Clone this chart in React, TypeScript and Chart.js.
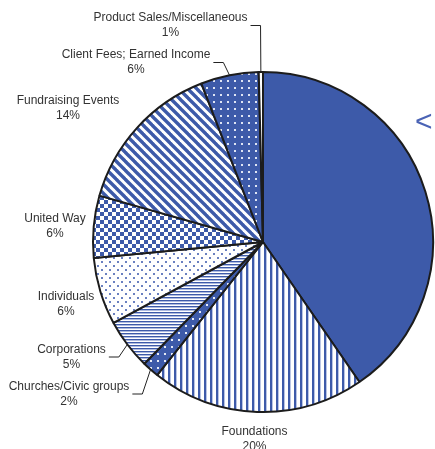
import React, { useEffect, useRef } from 'react';
import { Chart, registerables } from 'chart.js';

Chart.register(...registerables);

// ---- data ----
const categories = [
  'Government',
  'Foundations',
  'Churches/Civic groups',
  'Corporations',
  'Individuals',
  'United Way',
  'Fundraising Events',
  'Client Fees; Earned Income',
  'Product Sales/Miscellaneous',
];
const shares = [40.4, 20.3, 1.6, 4.8, 6.4, 5.9, 14.7, 5.5, 0.4];
const percentLabels = ['', '20%', '2%', '5%', '6%', '6%', '14%', '6%', '1%'];

// ---- layout of the label blocks (offset of block centre from pie centre) ----
const labelOffsets: Array<[number, number]> = [
  [0, 0],
  [-8.5, 197],
  [-194, 152],
  [-191.5, 115],
  [-197, 62.5],
  [-208, -16],
  [-195, -134],
  [-127, -179.5],
  [-92.5, -216.5],
];
const hasLeader = [false, false, true, true, false, false, false, true, true];

const BLUE = '#3d5aa9';

function makePattern(size: number, draw: (g: CanvasRenderingContext2D) => void): CanvasPattern | string {
  const c = document.createElement('canvas');
  c.width = size;
  c.height = size;
  const g = c.getContext('2d');
  if (!g) return BLUE;
  draw(g);
  return g.createPattern(c, 'repeat') || BLUE;
}

function buildFills() {
  const vertical = makePattern(6, (g) => {
    g.fillStyle = '#fff';
    g.fillRect(0, 0, 6, 6);
    g.fillStyle = BLUE;
    g.fillRect(0, 0, 2, 6);
    g.fillStyle = '#b9c4e4';
    g.fillRect(2, 0, 1, 6);
  });
  const blueDots7 = makePattern(7, (g) => {
    g.fillStyle = BLUE;
    g.fillRect(0, 0, 7, 7);
    g.fillStyle = '#e8ecf7';
    g.fillRect(3, 3, 2, 2);
  });
  const horizontal = makePattern(3, (g) => {
    g.fillStyle = '#fff';
    g.fillRect(0, 0, 3, 3);
    g.fillStyle = BLUE;
    g.fillRect(0, 0, 3, 1);
    g.fillStyle = '#aebbe0';
    g.fillRect(0, 1, 3, 1);
  });
  const sparseDots = makePattern(8, (g) => {
    g.fillStyle = '#fff';
    g.fillRect(0, 0, 8, 8);
    g.fillStyle = '#6a80c0';
    g.fillRect(1, 1, 2, 2);
    g.fillRect(5, 5, 2, 2);
  });
  const checker = makePattern(8, (g) => {
    g.fillStyle = '#fff';
    g.fillRect(0, 0, 8, 8);
    g.fillStyle = BLUE;
    g.fillRect(0, 0, 4, 4);
    g.fillRect(4, 4, 4, 4);
  });
  const diagonal = makePattern(9, (g) => {
    g.fillStyle = '#fff';
    g.fillRect(0, 0, 9, 9);
    g.strokeStyle = BLUE;
    g.lineWidth = 3.4;
    for (const o of [-9, 0, 9]) {
      g.beginPath();
      g.moveTo(o - 1, -1);
      g.lineTo(o + 10, 10);
      g.stroke();
    }
  });
  const clientDots = makePattern(7, (g) => {
    g.fillStyle = BLUE;
    g.fillRect(0, 0, 7, 7);
    g.fillStyle = '#dfe5f4';
    g.fillRect(3, 3, 2, 2);
  });
  return [BLUE, vertical, blueDots7, horizontal, sparseDots, checker, diagonal, clientDots, '#ffffff'];
}

const labelPlugin = {
  id: 'sliceLabels',
  afterDraw(chart: any) {
    const ctx: CanvasRenderingContext2D = chart.ctx;
    const meta = chart.getDatasetMeta(0);
    if (!meta || !meta.data.length) return;
    const first = meta.data[0];
    const cx = first.x;
    const cy = first.y;
    ctx.save();
    ctx.font = '12px "Liberation Sans", Arial, sans-serif';
    ctx.textAlign = 'center';
    ctx.textBaseline = 'middle';
    ctx.fillStyle = '#333333';
    meta.data.forEach((arc: any, i: number) => {
      if (i === 0) return;
      const [dx, dy] = labelOffsets[i];
      const bx = cx + dx;
      const by = cy + dy;
      const name = categories[i];
      ctx.fillStyle = '#333333';
      ctx.fillText(name, bx, by - 7.5);
      ctx.fillText(percentLabels[i], bx, by + 7.5);
      if (hasLeader[i]) {
        const w = ctx.measureText(name).width;
        const sx = bx + w / 2 + 3;
        const mid = (arc.startAngle + arc.endAngle) / 2;
        const ex = arc.x + arc.outerRadius * Math.cos(mid);
        const ey = arc.y + arc.outerRadius * Math.sin(mid);
        ctx.strokeStyle = '#222';
        ctx.lineWidth = 1;
        ctx.beginPath();
        ctx.moveTo(sx, by);
        ctx.lineTo(sx + 10, by);
        ctx.lineTo(ex, ey);
        ctx.stroke();
      }
    });
    // cut-off large label of the biggest slice
    ctx.font = '30px "Liberation Sans", Arial, sans-serif';
    ctx.textAlign = 'left';
    ctx.textBaseline = 'alphabetic';
    ctx.fillStyle = '#4a63b5';
    ctx.fillText('<', cx + 152, cy - 111);
    ctx.restore();
  },
};

export default function App() {
  const ref = useRef<HTMLCanvasElement>(null);
  useEffect(() => {
    if (!ref.current) return;
    const chart = new Chart(ref.current, {
      type: 'pie',
      data: {
        labels: categories,
        datasets: [
          {
            data: shares,
            backgroundColor: buildFills() as any,
            borderColor: '#1c1c1c',
            borderWidth: 2,
          },
        ],
      },
      options: {
        animation: false,
        responsive: false,
        devicePixelRatio: 1,
        layout: { padding: { left: 92, right: 1, top: 71, bottom: 36 } },
        plugins: {
          legend: { display: false },
          tooltip: { enabled: false },
        },
      },
      plugins: [labelPlugin],
    });
    return () => chart.destroy();
  }, []);
  return (
    <div style={{ position: 'fixed', left: 0, top: 0, width: 435, height: 449, background: '#fff' }}>
      <canvas ref={ref} width={435} height={449} style={{ width: 435, height: 449 }} />
    </div>
  );
}
